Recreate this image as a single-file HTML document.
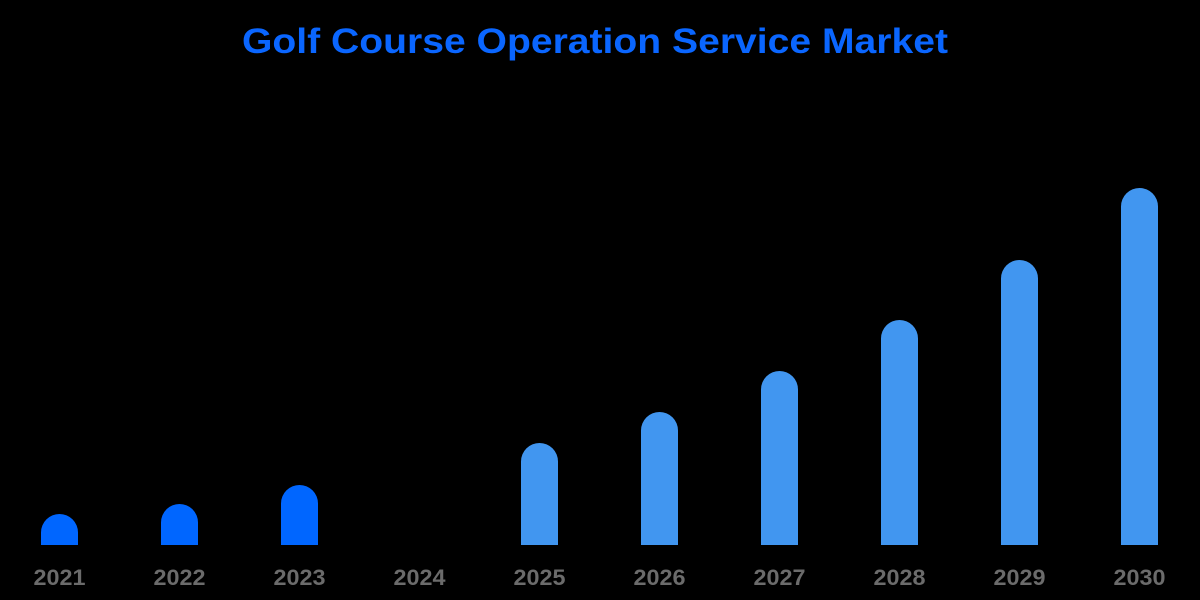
<!DOCTYPE html>
<html><head><meta charset="utf-8"><style>
html,body{margin:0;padding:0;background:#000;width:1200px;height:600px;overflow:hidden}
svg{display:block}
</style></head><body>
<svg id="chart" width="1200" height="600">
<text x="595" y="53" text-anchor="middle" fill="#0a66ff" font-family="Liberation Sans, sans-serif" font-weight="bold" font-size="35" textLength="706" lengthAdjust="spacingAndGlyphs">Golf Course Operation Service Market</text>
<g id="bars"></g><g id="labels"></g>
</svg>
<script>
const categories=["2021","2022","2023","2024","2025","2026","2027","2028","2029","2030"];
const values=[3.1,4.1,6.0,0,10.2,13.3,17.4,22.5,28.5,35.7];
const colors=["#0066ff","#0066ff","#0066ff","#0066ff","#4196f0","#4196f0","#4196f0","#4196f0","#4196f0","#4196f0"];
const baseY=545, pxPerUnit=10, x0=59.5, step=120, bw=37;
const xs=i=>x0+i*step, ys=v=>baseY-v*pxPerUnit;
const ns="http://www.w3.org/2000/svg";
const bars=document.getElementById('bars'), labels=document.getElementById('labels');
categories.forEach((c,i)=>{
  const v=values[i];
  if(v>0){
    const top=ys(v), h=baseY-top, r=Math.min(bw/2,h);
    const l=xs(i)-bw/2, rr=xs(i)+bw/2;
    const p=document.createElementNS(ns,'path');
    p.setAttribute('d',`M${l},${baseY}V${top+r}A${bw/2},${r} 0 0 1 ${rr},${top+r}V${baseY}Z`);
    p.setAttribute('fill',colors[i]);
    
    
    bars.appendChild(p);
  }
  const t=document.createElementNS(ns,'text');
  t.setAttribute('x',xs(i));t.setAttribute('y',585);
  t.setAttribute('text-anchor','middle');t.setAttribute('fill','#6b6b6b');
  t.setAttribute('font-family','Liberation Sans, sans-serif');t.setAttribute('font-weight','bold');
  t.setAttribute('font-size','22');t.setAttribute('textLength','52');t.setAttribute('lengthAdjust','spacingAndGlyphs');
  t.textContent=c;
  
  
  labels.appendChild(t);
});
</script>
</body></html>
